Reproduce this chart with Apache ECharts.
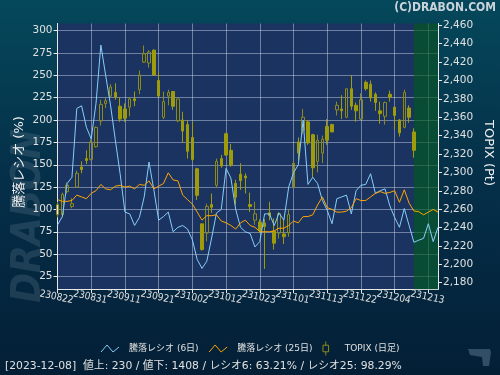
<!DOCTYPE html>
<html>
<head>
<meta charset="utf-8">
<script src="https://cdn.jsdelivr.net/npm/echarts@6/dist/echarts.min.js"></script>
<style>
html,body{margin:0;padding:0;background:#031f36;}
#main{width:500px;height:375px;}
</style>
</head>
<body>
<div id="main"></div>
<script>
// 日付 (YYMMDD)
var dates = [
    '230822','230823','230824','230825','230828','230829','230830','230831',
    '230901','230904','230905','230906','230907','230908','230911','230912','230913','230914','230915',
    '230919','230920','230921','230922','230925','230926','230927','230928','230929',
    '231002','231003','231004','231005','231006','231010','231011','231012','231013',
    '231016','231017','231018','231019','231020','231023','231024','231025','231026','231027',
    '231030','231031','231101','231102','231106','231107','231108','231109','231110',
    '231113','231114','231115','231116','231117','231120','231121','231122','231124',
    '231127','231128','231129','231130','231201','231204','231205','231206','231207','231208',
    '231211','231212','231213','231214','231215'
];
// 騰落レシオ 6日 (%)
var ratio6 = [
    82.5, 92, 129, 136, 213, 216, 192, 179, 219, 284,
    250, 217, 178, 140, 97, 95, 82, 91, 114, 153,
    122, 88, 92, 97, 75, 80, 82, 78, 66, 44,
    34, 42, 68, 96, 100, 146, 135, 100, 80, 75,
    73, 58, 64, 95, 95, 82, 96, 88, 125, 141,
    150, 200, 128, 136, 129, 110, 99, 84, 112, 114,
    116, 95, 121, 127, 128, 140, 118, 121, 123, 104,
    91, 80, 101, 82, 63.21, 65.5, 67.6, 84, 64, 80
];
// 騰落レシオ 25日 (%)
var ratio25 = [
    111, 109, 109, 110, 116, 114, 112, 118, 121, 128,
    123, 122, 126, 127, 125, 126, 123, 128, 127, 132,
    123, 126, 129, 141, 133, 132, 116, 111, 106, 97,
    88, 93, 93, 94, 87, 85, 82, 78, 85, 88,
    82, 80, 75, 75, 75, 76, 79, 79, 82, 87,
    85, 92, 92, 94, 105, 114, 102, 100, 97, 97,
    98, 102, 112, 110, 110, 114, 118, 120, 118, 119,
    121, 108, 122, 107, 98.29, 97.5, 94, 97, 100, 97
];
// TOPIX 日足 [始値, 終値, 安値, 高値]
var topix = [
    [2254,2265,2251,2268],[2254,2276,2251,2278],[2279,2286,2277,2289],[2263,2266,2261,2272],
    [2284,2299,2283,2302],[2306,2303,2299,2312],[2315,2313,2309,2324],[2314,2333,2313,2336],
    [2328,2349,2327,2350],[2356,2374,2351,2379],[2375,2378,2370,2381],[2383,2393,2382,2396],
    [2387,2382,2379,2397],[2372,2358,2355,2382],[2369,2359,2355,2375],[2371,2380,2361,2382],
    [2380,2378,2372,2388],[2390,2406,2385,2411],[2420,2429,2419,2438],[2419,2431,2414,2433],
    [2433,2406,2405,2434],[2400,2383,2382,2409],[2360,2377,2358,2388],[2383,2387,2373,2390],
    [2388,2372,2368,2388],[2356,2380,2355,2380],[2357,2345,2332,2366],[2352,2323,2315,2357],
    [2338,2314,2312,2355],[2304,2275,2270,2305],[2244,2216,2215,2244],[2234,2263,2225,2266],
    [2265,2262,2256,2277],[2286,2312,2283,2315],[2315,2307,2305,2319],[2342,2319,2318,2343],
    [2324,2308,2306,2331],[2288,2273,2265,2292],[2298,2291,2281,2310],[2296,2294,2277,2299],
    [2265,2263,2257,2278],[2248,2255,2243,2268],[2246,2237,2234,2249],[2245,2241,2195,2249],
    [2256,2253,2248,2268],[2236,2223,2216,2250],[2234,2255,2228,2257],[2233,2230,2222,2249],
    [2234,2254,2230,2259],[2284,2310,2283,2312],[2333,2321,2313,2338],[2346,2360,2342,2369],
    [2355,2332,2330,2357],[2341,2305,2295,2342],[2312,2335,2300,2341],[2321,2336,2310,2340],
    [2350,2335,2330,2358],[2352,2344,2344,2353],[2368,2373,2362,2377],[2369,2367,2358,2384],
    [2360,2391,2359,2391],[2391,2372,2368,2406],[2373,2367,2355,2376],[2358,2379,2357,2386],
    [2398,2391,2389,2400],[2396,2381,2377,2400],[2385,2376,2367,2387],[2367,2364,2353,2377],
    [2361,2376,2352,2377],[2385,2382,2377,2389],[2371,2362,2347,2371],[2357,2343,2339,2358],
    [2349,2387,2348,2390],[2370,2360,2354,2373],[2344,2324,2316,2348]
];
// 目盛り
var leftTicks = [25, 50, 75, 100, 125, 150, 175, 200, 225, 250, 275, 300];
var rightTicks = [2180, 2200, 2220, 2240, 2260, 2280, 2300, 2320, 2340, 2360, 2380, 2400, 2420, 2440, 2460];

var FONT = "'DejaVu Sans', 'Noto Sans CJK JP', sans-serif";
var gridColor = 'rgba(215,222,240,0.45)';
var candleColor = '#9e9c0a';
var hollowColor = '#8c8a18';

var myChart = echarts.init(document.getElementById('main'));

function everyWeek(idx) {
    return idx % 7 === 0;
}

var option = {
    animation: false,
    backgroundColor: {
        type: 'linear', x: 0, y: 0, x2: 0, y2: 1,
        colorStops: [
            {offset: 0, color: '#05485b'},
            {offset: 0.45, color: '#05304a'},
            {offset: 1, color: '#031f36'}
        ]
    },
    grid: {
        left: 57.5,
        right: 62,
        top: 23.5,
        bottom: 85.7,
        show: true,
        backgroundColor: '#1b3360',
        borderWidth: 0
    },
    legend: {
        top: 336,
        left: 'center',
        itemWidth: 18,
        itemHeight: 14,
        itemGap: 10,
        textStyle: {color: '#e0e0e0', fontSize: 9, fontFamily: FONT, padding: [0, 0, 0, 5]},
        data: [
            {name: '騰落レシオ (6日)', icon: 'path://M0,7L6,0L12,7L18,2',
                itemStyle: {color: 'transparent', borderColor: '#87cefa', borderWidth: 1}},
            {name: '騰落レシオ (25日)', icon: 'path://M0,7L6,0L12,7L18,2',
                itemStyle: {color: 'transparent', borderColor: '#ffa500', borderWidth: 1}},
            {name: 'TOPIX (日足)', icon: 'path://M3,0L3,4M0,4L6,4L6,11L0,11ZM3,11L3,15',
                itemStyle: {color: 'transparent', borderColor: hollowColor, borderWidth: 1}}
        ]
    },
    xAxis: {
        type: 'category',
        data: dates,
        boundaryGap: false,
        axisLine: {lineStyle: {color: '#e8e8e8', width: 1}},
        axisTick: {interval: everyWeek, length: 4, lineStyle: {color: '#e8e8e8'}},
        axisLabel: {
            interval: 0,
            formatter: function (v, idx) { return everyWeek(idx) ? v : ''; },
            rotate: -12,
            align: 'center',
            verticalAlign: 'top',
            margin: 3,
            color: '#e0e0e0',
            fontSize: 10,
            fontFamily: "'DejaVu Sans Condensed', 'DejaVu Sans'"
        },
        splitLine: {show: true, interval: everyWeek, lineStyle: {color: gridColor, width: 1}}
    },
    yAxis: [
        {
            type: 'value',
            position: 'left',
            min: 10.6,
            max: 308.1,
            axisLine: {show: true, lineStyle: {color: '#e8e8e8'}},
            axisTick: {show: true, length: 4, customValues: leftTicks, lineStyle: {color: '#e8e8e8'}},
            axisLabel: {customValues: leftTicks, margin: 5, color: '#e0e0e0', fontSize: 10.5, fontFamily: FONT},
            splitLine: {show: true, lineStyle: {color: gridColor, width: 1}}
        },
        {
            type: 'value',
            position: 'right',
            min: 2172.8,
            max: 2462,
            axisLine: {show: true, lineStyle: {color: '#e8e8e8'}},
            axisTick: {show: true, length: 4, customValues: rightTicks, lineStyle: {color: '#e8e8e8'}},
            axisLabel: {
                customValues: rightTicks, margin: 5, color: '#e0e0e0', fontSize: 10.5, fontFamily: FONT,
                formatter: function (v) { return v.toLocaleString('en-US'); }
            },
            splitLine: {show: false}
        }
    ],
    series: [
        {
            name: 'TOPIX (日足)',
            type: 'candlestick',
            yAxisIndex: 1,
            data: topix,
            barWidth: 3,
            clip: false,
            itemStyle: {
                color: 'rgba(0,0,0,0)',
                color0: candleColor,
                borderColor: hollowColor,
                borderColor0: candleColor,
                borderWidth: 1
            },
            markArea: {
                silent: true,
                itemStyle: {color: 'rgba(0,90,30,0.65)'},
                data: [[{xAxis: '231208'}, {xAxis: '231215'}]]
            }
        },
        {
            name: '騰落レシオ (6日)',
            type: 'line',
            yAxisIndex: 0,
            data: ratio6,
            symbol: 'none',
            color: '#87cefa',
            lineStyle: {width: 1, color: '#87cefa'}
        },
        {
            name: '騰落レシオ (25日)',
            type: 'line',
            yAxisIndex: 0,
            data: ratio25,
            symbol: 'none',
            color: '#ffa500',
            lineStyle: {width: 1, color: '#ffa500'}
        }
    ],
    graphic: [
        {
            type: 'text', z: -1, x: 30, y: 216, rotation: Math.PI / 2,
            style: {
                text: 'DRABON', fill: 'rgba(100,125,145,0.28)',
                font: "italic bold 40px 'DejaVu Sans Condensed', 'DejaVu Sans'",
                textAlign: 'center', textVerticalAlign: 'middle'
            }
        },
        {
            type: 'text', x: 496, y: 8,
            style: {
                text: '(C)DRABON.COM', fill: '#c9d3da',
                font: "bold 12px 'DejaVu Sans Condensed', 'DejaVu Sans'",
                textAlign: 'right', textVerticalAlign: 'middle'
            }
        },
        {
            type: 'text', x: 20, y: 162, rotation: Math.PI / 2,
            style: {
                text: '騰落レシオ (%)', fill: '#f0f0f0',
                font: "13px 'DejaVu Sans', 'Noto Sans CJK JP'",
                textAlign: 'center', textVerticalAlign: 'middle'
            }
        },
        {
            type: 'text', x: 488, y: 153, rotation: -Math.PI / 2,
            style: {
                text: 'TOPIX (Pt)', fill: '#f0f0f0',
                font: "13px 'DejaVu Sans', 'Noto Sans CJK JP'",
                textAlign: 'center', textVerticalAlign: 'middle'
            }
        },
        {
            type: 'text', x: 5, y: 366,
            style: {
                text: '[2023-12-08]  値上: 230 / 値下: 1408 / レシオ6: 63.21% / レシオ25: 98.29%',
                fill: '#e0e0e0',
                font: "10.8px 'DejaVu Sans', 'Noto Sans CJK JP'",
                textAlign: 'left', textVerticalAlign: 'middle'
            }
        },
        {
            type: 'polygon',
            shape: {points: [[468, 349], [490, 349], [491, 352], [489, 366], [483, 366], [482, 357], [470, 355]]},
            style: {fill: 'rgba(80,110,130,0.6)'}
        }
    ]
};

myChart.setOption(option);
</script>
</body>
</html>
